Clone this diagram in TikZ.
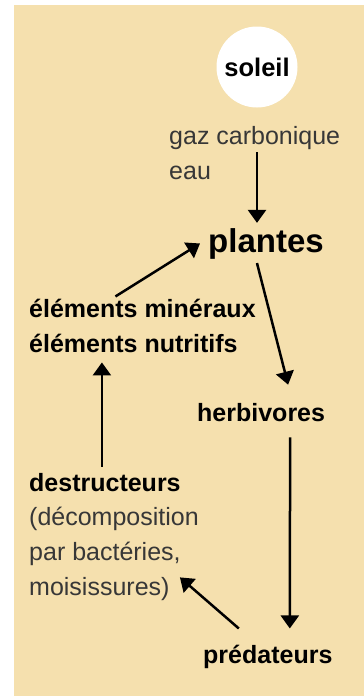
\documentclass[tikz,border=0pt]{standalone}
\usepackage{fontspec}
\setmainfont{Liberation Sans}
\usetikzlibrary{arrows.meta}
\definecolor{fondbeige}{RGB}{245,224,174}
\definecolor{textegris}{RGB}{55,55,55}

\begin{document}
\begin{tikzpicture}[x=1pt, y=1pt,
    gras/.style={font=\bfseries\fontsize{25}{35}\selectfont, inner sep=0pt, anchor=base west, align=left},
    maigre/.style={font=\fontsize{25}{35}\selectfont, text=textegris, inner sep=0pt, anchor=base west, align=left},
    fleche/.style={line width=2.5pt, -{Triangle[width=18pt,length=13pt]}}]
  \useasboundingbox (0,0) rectangle (364,-696);
  \fill[fondbeige] (14,-5) rectangle (364,-696);

  % les noeuds (ancre = ligne de base de la derniere ligne)
  \node[circle, fill=white, minimum size=81pt, inner sep=0pt,
    font=\bfseries\fontsize{25.5}{28}\selectfont] (soleil) at (257,-67) {soleil};
  \node[maigre] (gaz) at (169,-179) {gaz carbonique\\eau};
  \node[gras, font=\bfseries\fontsize{33}{38}\selectfont] (plantes) at (208,-252) {plantes};
  \node[gras] (mineraux) at (29,-352) {éléments minéraux\\éléments nutritifs};
  \node[gras] (herbivores) at (197,-421) {herbivores};
  \node[gras] (destructeurs) at (29,-491) {destructeurs};
  \node[maigre] (decomposition) at (29,-595) {(décomposition\\par bactéries,\\moisissures)};
  \node[gras] (predateurs) at (203,-663) {prédateurs};

  % les fleches
  \draw[fleche] ([yshift=27pt]soleil |- gaz.base) -- ([yshift=5pt]soleil |- plantes.north);
  \draw[fleche] ([xshift=-27pt,yshift=2pt]mineraux.north) -- ([xshift=-8pt]plantes.west);
  \draw[fleche] ([xshift=-9pt,yshift=-4pt]plantes.south) -- ([xshift=27pt,yshift=18pt]herbivores.north);
  \draw[fleche] ([xshift=29pt,yshift=-16pt]herbivores.south) -- ([xshift=22pt,yshift=16pt]predateurs.north);
  \draw[fleche] ([xshift=-3pt,yshift=6pt]destructeurs.north) -- ([xshift=-3pt,yshift=-10pt]destructeurs.north |- mineraux.south);
  \draw[fleche] ([xshift=-29pt,yshift=16pt]predateurs.north) -- ([xshift=-19pt,yshift=23pt]decomposition.south east);
\end{tikzpicture}
\end{document}
